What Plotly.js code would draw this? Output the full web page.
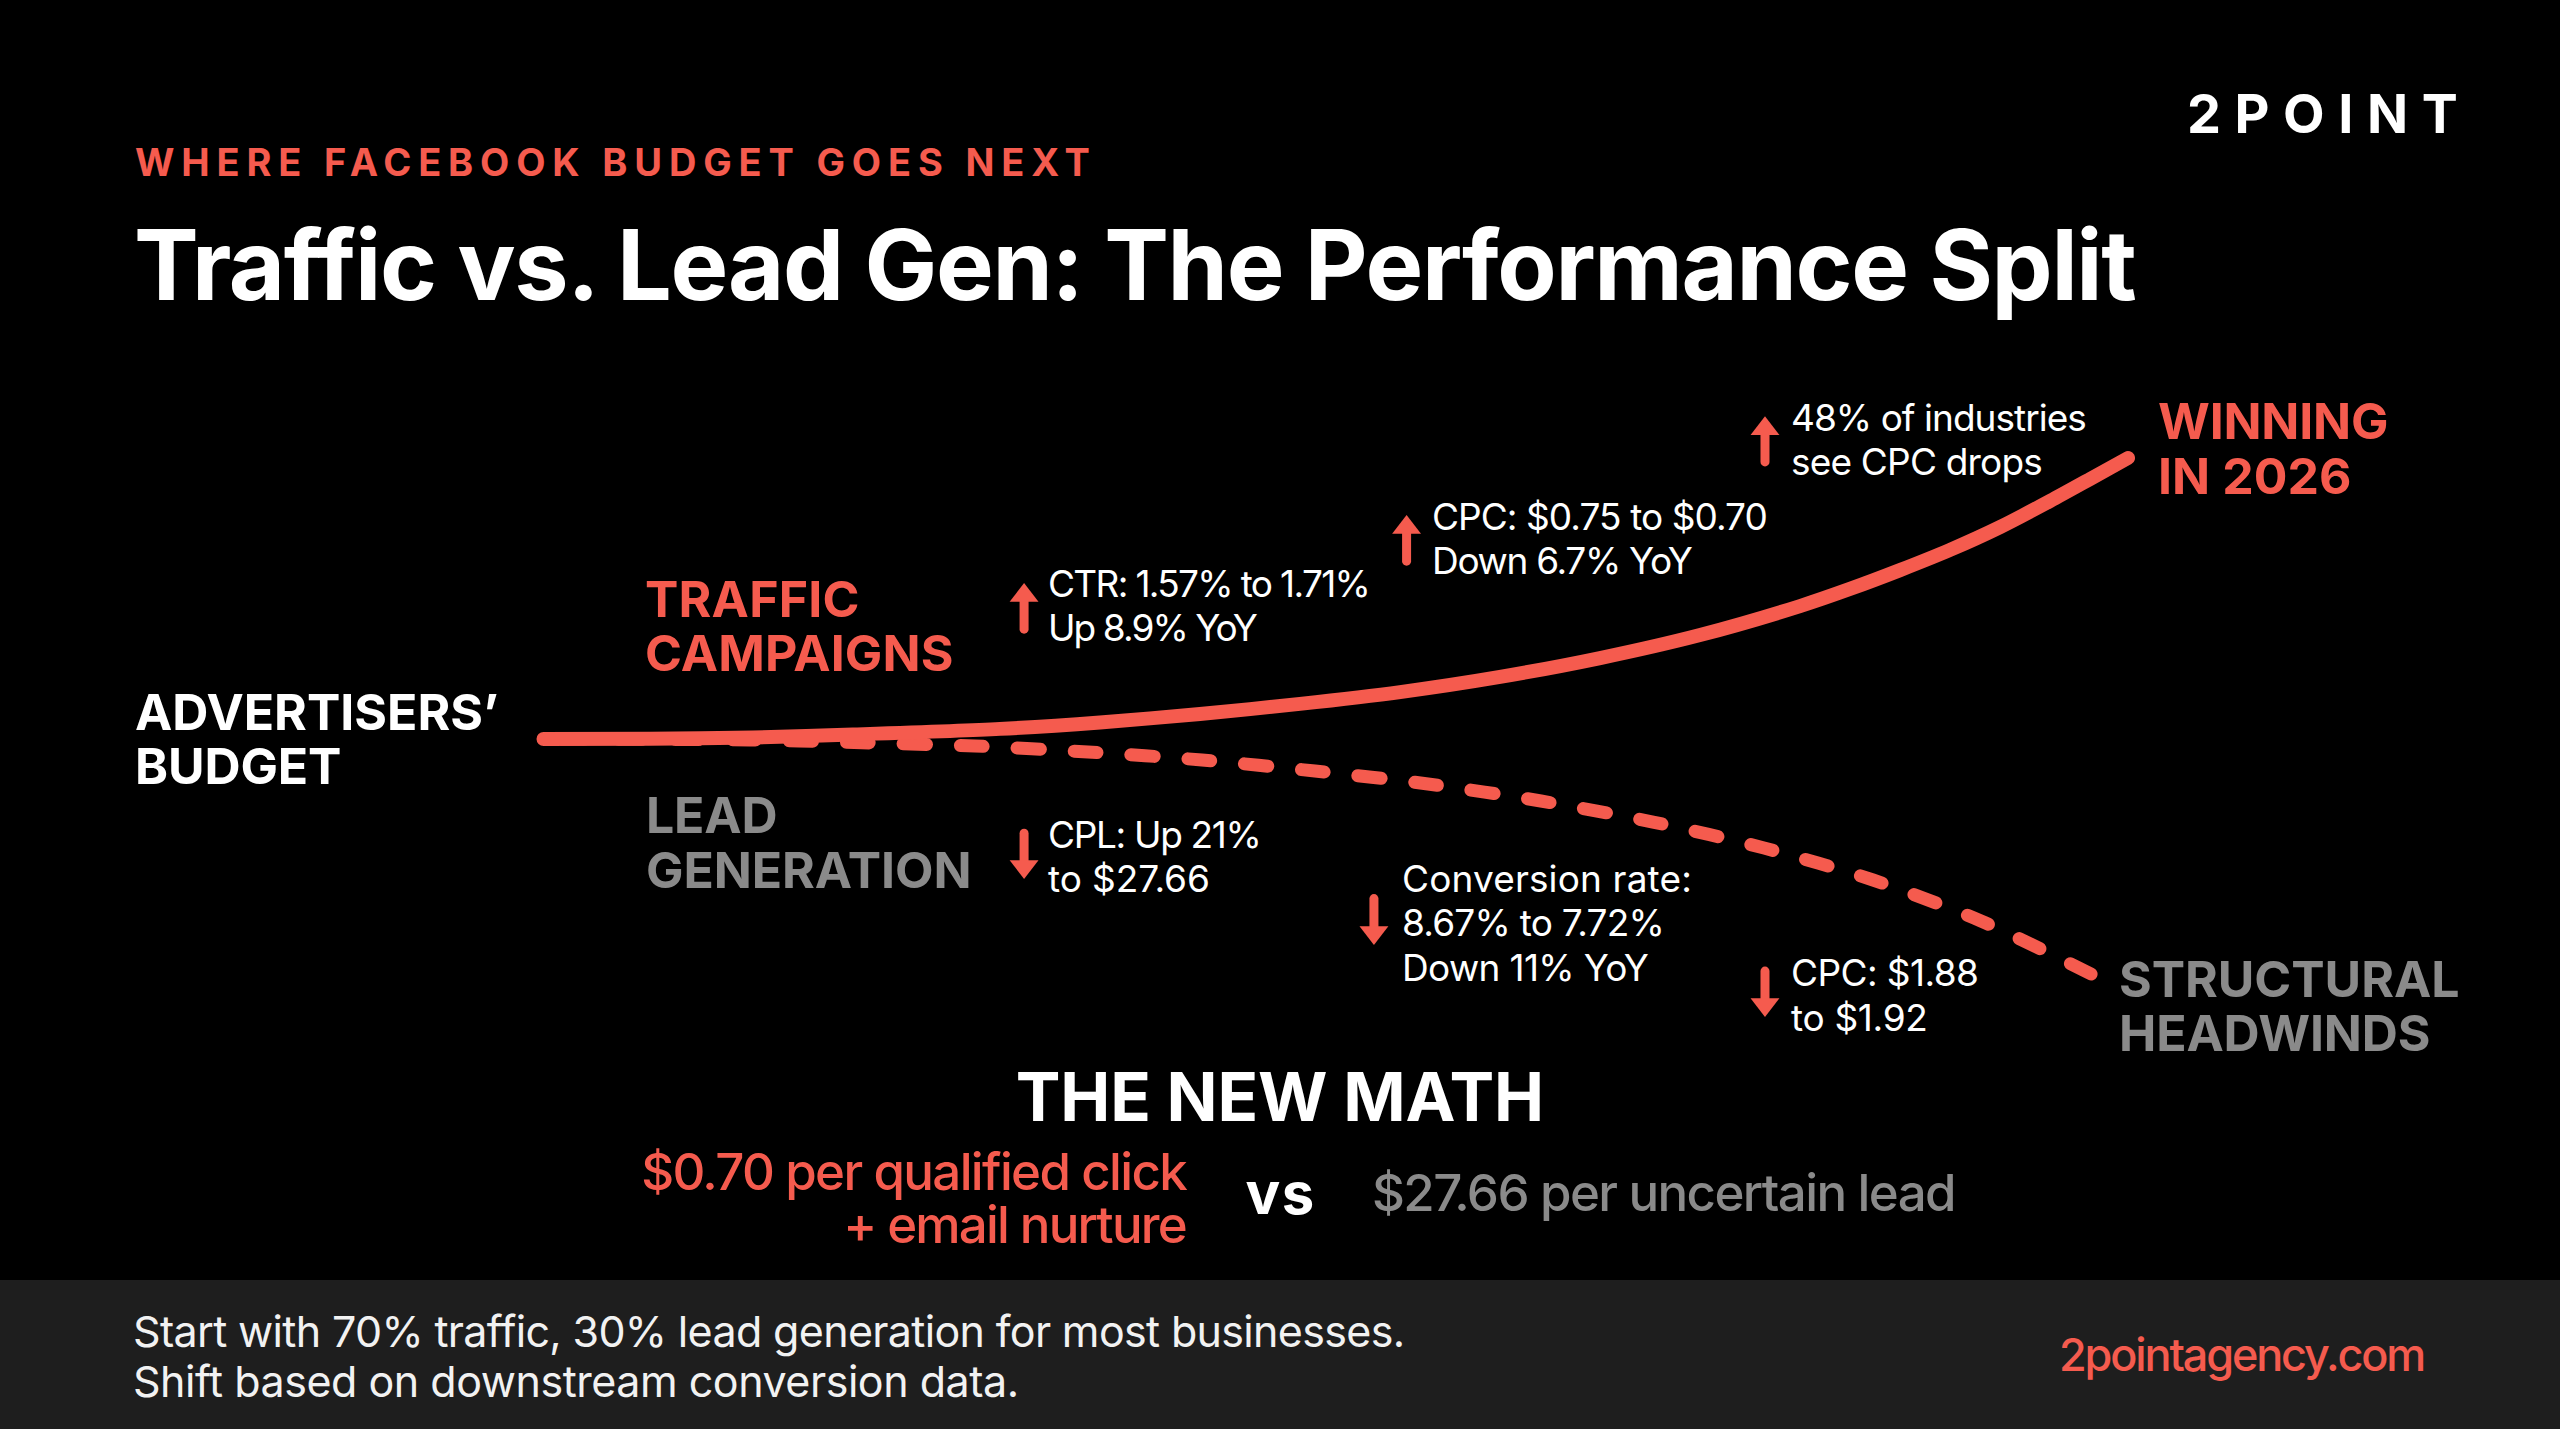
<!DOCTYPE html>
<html><head><meta charset="utf-8">
<script src="https://cdn.plot.ly/plotly-3.0.1.min.js"></script>
<style>
html,body{margin:0;padding:0;background:#000}
#chart{width:2560px;height:1429px}
.js-line{stroke-linecap:round}
</style></head><body><div id="chart"></div>
<script>
// Budget paths: x = progress (0-100), y = performance index relative to the split point
const trafficX = [0,6.72,13.22,19.53,28.81,35.12,41.43,47.74,54.06,60.37,66.68,72.99,79.3,82.45,85.61,88.77,91.92,95.08,97.6,100];
const trafficY = [0,0.1,0.5,1.6,3.6,5.9,8.9,12.5,16.7,22.1,28.8,37,47.3,53.4,60.1,67.3,75.4,84.7,92.5,100];
const leadX = [0,13.03,20.1,27.23,34.36,41.56,48.69,55.82,62.95,70.02,77.03,83.91,90.72,97.67];
const leadY = [0,-0.36,-1.32,-2.49,-4.63,-7.47,-11.39,-16.01,-22.06,-29.54,-38.79,-50.18,-64.77,-83.63];
// Metric arrows
const arrowX    = [30.33,54.47,77.09,30.33,52.41,77.09];
const arrowTail = [39.1,63.3,98.6,-33.5,-56.8,-82.6];
const arrowTip  = [55.5,79.7,114.9,-49.8,-73.3,-98.9];
// Text
const eyebrow = "WHERE FACEBOOK BUDGET GOES NEXT";
const headline = "Traffic vs. Lead Gen: The Performance Split";
const brand = "2POINT";
const sourceLabel = ["ADVERTISERS’","BUDGET"];
const trafficLabel = ["TRAFFIC","CAMPAIGNS"];
const leadLabel = ["LEAD","GENERATION"];
const winLabel = ["WINNING","IN 2026"];
const headwindLabel = ["STRUCTURAL","HEADWINDS"];
const noteCtr = ["CTR: 1.57% to 1.71%","Up 8.9% YoY"];
const noteCpc = ["CPC: $0.75 to $0.70","Down 6.7% YoY"];
const noteIndustries = ["48% of industries","see CPC drops"];
const noteCpl = ["CPL: Up 21%","to $27.66"];
const noteConv = ["Conversion rate:","8.67% to 7.72%","Down 11% YoY"];
const noteCpcLead = ["CPC: $1.88","to $1.92"];
const mathTitle = "THE NEW MATH";
const mathLeft = ["$0.70 per qualified click","+ email nurture"];
const mathVs = "vs";
const mathRight = "$27.66 per uncertain lead";
const footer = ["Start with 70% traffic, 30% lead generation for most businesses.","Shift based on downstream conversion data."];
const site = "2pointagency.com";

const W=2560,H=1429, CORAL="#F55B4E", GREY="#8A8A8A", WHITE="#FFFFFF";
const FONT="Inter, 'Noto Sans', sans-serif";
const annotations=[], fit=[];
function put(text,x,base,size,color,weight,anchor,width){
  // base = text baseline in page pixels; Inter box centre sits .364em above the baseline
  const dx = anchor ? 0 : -2;
  annotations.push({xref:'paper',yref:'paper',x:(x+dx)/W,y:1-(base-0.364*size)/H,text:text,showarrow:false,
    xanchor:anchor||'left',yanchor:'middle',align:anchor||'left',borderpad:0,borderwidth:0,
    font:{family:FONT,size:size,color:color,weight:weight}});
  fit.push(width ? width+0.05*size : 0);
}
function block(lines,x,base,gap,size,color,weight,anchor,widths){lines.forEach((l,i)=>put(l,x,base+i*gap,size,color,weight,anchor,widths[i]));}

put(eyebrow,137,176,38,CORAL,700,null,953);
put(headline,136,300,97,WHITE,700,null,1998);
put(brand,2189,133,54,WHITE,700,null,268);
block(sourceLabel,137,730,54,50,WHITE,700,null,[361,204]);
block(trafficLabel,647,617,54,50,CORAL,700,null,[212,306]);
block(leadLabel,648,833,55,50,GREY,700,null,[129,323]);
block(winLabel,2160,439,55,50,CORAL,700,null,[228,191]);
block(headwindLabel,2121,997,54,50,GREY,700,null,[338,309]);
block(noteCtr,1050,597,44,37,WHITE,400,null,[321,208]);
block(noteCpc,1434,530,44,37,WHITE,400,null,[334,259]);
block(noteIndustries,1793,430.5,44,37,WHITE,400,null,[294,250]);
block(noteCpl,1050,848,44,37,WHITE,400,null,[212,160]);
block(noteConv,1404,891.5,44.5,37,WHITE,400,null,[288,261,245]);
block(noteCpcLead,1793,986,45,37,WHITE,400,null,[186,135]);
put(mathTitle,1280,1121,67,WHITE,700,'center',525);
block(mathLeft,1186,1190,53,51,CORAL,500,'right',[544,342]);
put(mathVs,1280,1214,58,WHITE,700,'center',66);
put(mathRight,1374,1211,51,GREY,500,null,582);
block(footer,135,1347,50,43,"#F2F2F2",400,null,[1270,884]);
put(site,2061,1371,45,CORAL,500,null,365);

// Axis ranges: progress 0 sits at x=543.5px, 100 at x=2128px; index 0 at y=739px, 100 at y=458px
const XU=15.845, YU=2.81;
const xRange=[-543.5/XU,(W-543.5)/XU], yRange=[(739-H)/YU,739/YU];
const HEAD_OFFSET=12.5/YU;
const shaftX=[],shaftY=[],headY=[],headSym=[];
arrowX.forEach((x,i)=>{const up=arrowTip[i]>arrowTail[i];const h=arrowTip[i]+(up?-HEAD_OFFSET:HEAD_OFFSET);
  shaftX.push(x,x,null);shaftY.push(arrowTail[i],h,null);headY.push(h);headSym.push(up?'triangle-up':'triangle-down');});

const DASH=23, GAP=34;
const traces=[
 {x:leadX,y:leadY,mode:'lines',line:{color:CORAL,width:13,dash:DASH+'px,'+GAP+'px',shape:'spline',smoothing:0.8},hoverinfo:'skip'},
 {x:trafficX,y:trafficY,mode:'lines',line:{color:CORAL,width:14,shape:'spline',smoothing:0.8},hoverinfo:'skip'},
 {x:shaftX,y:shaftY,mode:'lines',line:{color:CORAL,width:9},hoverinfo:'skip'},
 {x:arrowX,y:headY,mode:'markers',marker:{color:CORAL,size:25,symbol:headSym,line:{width:0}},hoverinfo:'skip'}
];
const layout={width:W,height:H,margin:{l:0,r:0,t:0,b:0,pad:0},paper_bgcolor:"#000",plot_bgcolor:"#000",showlegend:false,
 xaxis:{range:xRange,visible:false,fixedrange:true},yaxis:{range:yRange,visible:false,fixedrange:true},
 shapes:[{type:'rect',xref:'paper',yref:'paper',x0:0,x1:1,y0:0,y1:1-1280/H,fillcolor:"#1E1E1E",line:{width:0},layer:'below'}],
 annotations:annotations,font:{family:FONT}};
function finish(){
  document.querySelectorAll('.annotation').forEach((a,i)=>{
    const t=a.querySelector('text'); if(!t||!fit[i])return;
    const n=t.textContent.length; const len=t.getComputedTextLength();
    if(n>1) t.style.letterSpacing=((fit[i]-len)/(n-1)).toFixed(3)+'px';
  });
  // Phase the dashes so that the last dash finishes at the path's end
  const p=document.querySelector('.scatterlayer .trace .js-line');
  if(p){const L=p.getTotalLength(); p.style.strokeDashoffset=-(((L-DASH)%(DASH+GAP)));}
}
Plotly.newPlot('chart',traces,layout,{displayModeBar:false,staticPlot:true}).then(finish);
</script></body></html>
